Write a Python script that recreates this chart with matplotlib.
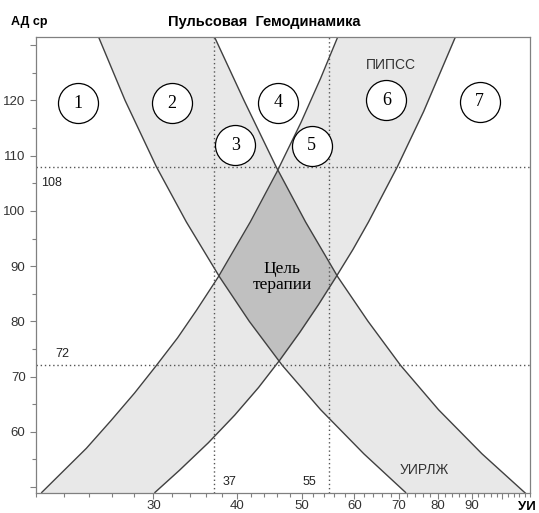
import numpy as np
import matplotlib
matplotlib.use('Agg')
import matplotlib.pyplot as plt
from matplotlib.ticker import FixedLocator, NullFormatter

plt.rcParams['font.family'] = ['Liberation Sans', 'DejaVu Sans']

# ПИПСС - две восходящие границы (УИ, АД ср)
pipss_low_ui = [20.4, 23.8, 25.9, 28.1, 30.3, 32.6, 34.8, 37.5, 41.9, 45.9, 49.9, 53.4, 56.7]
pipss_low_ad = [49, 57, 62, 67, 72, 77, 82, 88, 98, 107, 116, 124, 131.6]
pipss_high_ui = [30.15, 32.8, 36.25, 39.7, 43.1, 46.4, 49.7, 53.0, 56.3, 59.7, 63.0, 69.6, 76.2, 85.1]
pipss_high_ad = [49, 53, 58, 63, 68, 73, 78, 83, 88, 93, 98, 108, 118, 131.6]

# УИРЛЖ - две нисходящие границы
uirlzh_low_ui = [24.8, 27.2, 30.3, 33.6, 37.7, 41.75, 46.8, 53.4, 62.0, 71.6]
uirlzh_low_ad = [131.6, 120, 108, 98, 88, 80, 72, 64, 56, 49]
uirlzh_high_ui = [37.0, 41.0, 45.8, 50.7, 56.7, 62.9, 70.4, 80.2, 93.2, 109.1]
uirlzh_high_ad = [131.6, 120, 108, 98, 88, 80, 72, 64, 56, 48.5]

# целевые границы
ad_lines = [108, 72]
ui_lines = [37, 55]

zone_labels = ['1', '2', '3', '4', '5', '6', '7']

x_major = [30, 40, 50, 60, 70, 80, 90, 100]
x_major_labels = ['30', '40', '50', '60', '70', '80', '90', '']
y_major = [50, 60, 70, 80, 90, 100, 110, 120, 130]
y_major_labels = ['', '60', '70', '80', '90', '100', '110', '120', '']


def curve_x(yy, ui, ad):
    # x границы для каждого y (в лог. масштабе)
    ui = np.array(ui, dtype=float)
    ad = np.array(ad, dtype=float)
    order = np.argsort(ad)
    return 10 ** np.interp(yy, ad[order], np.log10(ui[order]))


fig = plt.figure(figsize=(5.39, 5.13), dpi=100)
ax = fig.add_axes([36 / 539, 20 / 513, 494 / 539, 456 / 513])
ax.set_xscale('log')
ax.set_xlim(20, 110)
ax.set_ylim(48.9, 131.5)

yy = np.linspace(48.0, 132.0, 800)
x1 = curve_x(yy, pipss_low_ui, pipss_low_ad)
x2 = curve_x(yy, pipss_high_ui, pipss_high_ad)
x3 = curve_x(yy, uirlzh_low_ui, uirlzh_low_ad)
x4 = curve_x(yy, uirlzh_high_ui, uirlzh_high_ad)

band = '#e8e8e8'
ax.fill_betweenx(yy, x1, x2, color=band, lw=0)
ax.fill_betweenx(yy, x3, x4, color=band, lw=0)
xl = np.maximum(x1, x3)
xr = np.minimum(x2, x4)
ax.fill_betweenx(yy, xl, xr, where=xl < xr, color='#c0c0c0', lw=0, interpolate=True)

for ui, ad in [(pipss_low_ui, pipss_low_ad), (pipss_high_ui, pipss_high_ad),
               (uirlzh_low_ui, uirlzh_low_ad), (uirlzh_high_ui, uirlzh_high_ad)]:
    ax.plot(ui, ad, color='#404040', lw=1.0)

for v in ad_lines:
    ax.axhline(v, color='#555555', lw=1.0, ls=(0, (1, 2)))
for v in ui_lines:
    ax.axvline(v, color='#555555', lw=1.0, ls=(0, (1, 2)))

# кружки с номерами зон
circle_pos = [(23.1, 119.5), (32.0, 119.5), (39.8, 111.9), (46.1, 119.6),
              (51.8, 111.8), (67.0, 120.0), (92.5, 119.8)]
for (cx, cy), lab in zip(circle_pos, zone_labels):
    ax.scatter([cx], [cy], s=830, facecolor='white', edgecolor='black', lw=0.9, zorder=5)
    ax.text(cx, cy, lab, ha='center', va='center', fontsize=13,
            family='Liberation Serif', zorder=6)

ax.text(46.8, 88.0, 'Цель\nтерапии', ha='center', va='center', fontsize=12.5,
        family='Liberation Serif', linespacing=1.0, zorder=6)

ax.text(68.0, 126.4, 'ПИПСС', ha='center', va='center', fontsize=10, color='#333333')
ax.text(76.4, 53.1, 'УИРЛЖ', ha='center', va='center', fontsize=10, color='#333333')

ax.text(21.1, 105.1, '108', ha='center', va='center', fontsize=9, color='#222222')
ax.text(21.9, 74.0, '72', ha='center', va='center', fontsize=9, color='#222222')
ax.text(39.0, 50.9, '37', ha='center', va='center', fontsize=9, color='#222222')
ax.text(51.3, 50.9, '55', ha='center', va='center', fontsize=9, color='#222222')

ax.xaxis.set_major_locator(FixedLocator(x_major))
ax.set_xticklabels(x_major_labels)
x_minor = [v for v in range(20, 111, 2) if v not in x_major]
ax.xaxis.set_minor_locator(FixedLocator(x_minor))
ax.xaxis.set_minor_formatter(NullFormatter())

ax.set_yticks(y_major)
ax.set_yticklabels(y_major_labels)
ax.yaxis.set_minor_locator(FixedLocator([55, 65, 75, 85, 95, 105, 115, 125]))

ax.tick_params(which='both', direction='out', colors='#808080', labelcolor='#333333',
               labelsize=9.5, width=0.8)
ax.tick_params(which='major', length=4)
ax.tick_params(which='minor', length=3)
ax.tick_params(axis='x', which='both', pad=1)
for s in ax.spines.values():
    s.set_color('#808080')
    s.set_linewidth(0.9)

fig.text(264 / 539, 1 - 22 / 513, 'Пульсовая  Гемодинамика', ha='center', va='center',
         fontsize=10.5, fontweight='bold')
fig.text(11 / 539, 1 - 22 / 513, 'АД ср', ha='left', va='center', fontsize=9,
         fontweight='bold')
fig.text(527 / 539, 1 - 507 / 513, 'УИ', ha='center', va='center', fontsize=9.5,
         fontweight='bold')

fig.savefig('out.png', dpi=100)
